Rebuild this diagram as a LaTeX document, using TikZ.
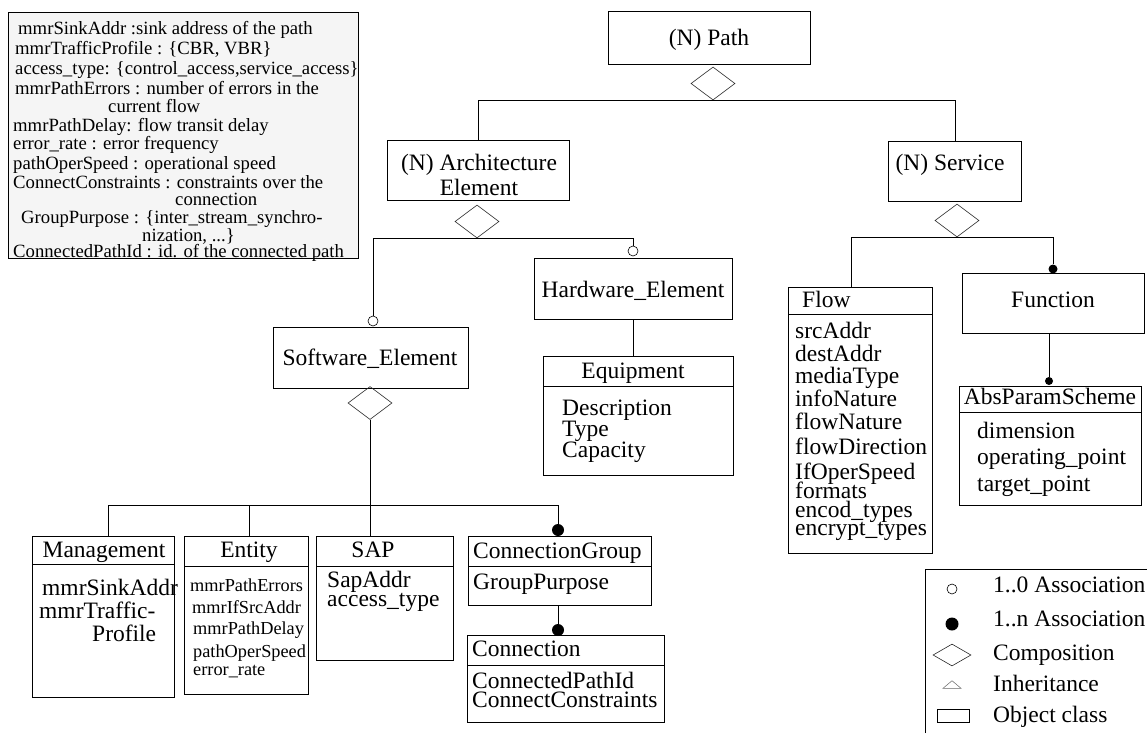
\documentclass[tikz,border=0pt]{standalone}
\usepackage{fontspec}
\setmainfont{Liberation Serif}
\usetikzlibrary{shapes.geometric}
\begin{document}
\begin{tikzpicture}[x=1pt,y=-1pt,
  box/.style={draw, line width=1pt, inner sep=0pt, anchor=north west},
  comp/.style={diamond, draw=black!85, line width=0.6pt, inner sep=0pt, minimum width=44pt, minimum height=33pt},
  conn/.style={line width=1pt},
  sepline/.style={line width=1pt},
  hol/.style={circle, draw, fill=white, line width=0.6pt, inner sep=0pt, minimum size=10pt},
  fil/.style={circle, fill=black, inner sep=0pt, minimum size=12pt},
  big/.style={font=\fontsize{23.5pt}{24pt}\selectfont, inner sep=0pt, text height=15.5pt, text depth=0pt},
  bigw/.style={big, anchor=west},
  note/.style={font=\fontsize{18.7pt}{19pt}\selectfont, inner sep=0pt, text height=12.3pt, text depth=0pt, anchor=west},
  sml/.style={font=\fontsize{18.3pt}{19pt}\selectfont, inner sep=0pt, text height=12pt, text depth=0pt, anchor=west}
]
\useasboundingbox (0,0) rectangle (1147,733);

% ---------- note box ----------
\node[box, fill=black!4, minimum width=350pt, minimum height=246pt] (notebox) at (8,12) {};
\node[note] (n1) at (18,28) {mmrSinkAddr :sink address of the path};
\node[note] (n2) at (15,48) {mmrTrafficProfile : \{CBR, VBR\}};
\node[note] (n3) at (15,68) {access\_type: \{control\_access,service\_access\}};
\node[note] (n4) at (15,88) {mmrPathErrors : number of errors in the};
\node[note] (n5) at (108,106) {current flow};
\node[note] (n6) at (13,125) {mmrPathDelay: flow transit delay};
\node[note] (n7) at (13,143) {error\_rate : error frequency};
\node[note] (n8) at (13,163) {pathOperSpeed : operational speed};
\node[note] (n9) at (13,182) {ConnectConstraints : constraints over the};
\node[note] (n10) at (175,199) {connection};
\node[note] (n11) at (21,217) {GroupPurpose : \{inter\_stream\_synchro-};
\node[note] (n12) at (142,235) {nization, ...\}};
\node[note] (n13) at (13,251) {ConnectedPathId : id. of the connected path};

% ---------- top level ----------
\node[box, minimum width=202pt, minimum height=53pt] (path) at (608,11) {};
\node[big] (pathT) at (709,38) {(N) Path};
\node[comp] (pathD) at (713,83.5) {};

\node[box, minimum width=182pt, minimum height=60pt] (arch) at (387,140) {};
\node[big] (archT1) at (479,163) {(N) Architecture};
\node[big] (archT2) at (479,188) {Element};
\node[comp] (archD) at (477,221.5) {};

\node[box, minimum width=133pt, minimum height=60pt] (srv) at (888,141) {};
\node[big] (srvT) at (950,163) {(N) Service};
\node[comp] (srvD) at (957,220.5) {};

\draw[conn] (arch.north) |- (pathD.south) -| (srv.north);

% ---------- architecture subtree ----------
\node[hol] (hwC) at (633,251) {};
\node[box, minimum width=198pt, minimum height=61pt] (hw) at (534,258) {};
\node[big] (hwT) at (633,290) {Hardware\_Element};

\node[hol] (swC) at (373,321) {};
\node[box, minimum width=195pt, minimum height=61pt] (sw) at (273,327) {};
\node[big] (swT) at (370,358) {Software\_Element};
\node[comp] (swD) at (370,403) {};

\draw[conn] (swC.north) |- (archD.south) -| (hwC.north);

\node[box, minimum width=190pt, minimum height=119pt] (equip) at (543,356) {};
\draw[sepline] (equip.north west) ++(0,30) -- ++(190,0);
\node[big] (equipT) at (633,371) {Equipment};
\node[bigw] (eq1) at (562,408) {Description};
\node[bigw] (eq2) at (562,429) {Type};
\node[bigw] (eq3) at (562,450) {Capacity};
\draw[conn] (hw.south -| hwC) -- (equip.north -| hwC);

% ---------- software subtree ----------
\coordinate (jM) at (108,505);
\coordinate (jE) at (249,505);
\coordinate (jS) at (370,505);
\coordinate (jC) at (558,505);

\node[box, minimum width=142pt, minimum height=161pt] (mgmt) at (32,536) {};
\draw[sepline] (mgmt.north west) ++(0,28) -- ++(142,0);
\node[big] (mgmtT) at (104,550) {Management};
\node[bigw] (m1) at (42,588) {mmrSinkAddr};
\node[bigw] (m2) at (39,611) {mmrTraffic-};
\node[bigw] (m3) at (92,634) {Profile};

\node[box, minimum width=124pt, minimum height=158pt] (ent) at (184,536) {};
\draw[sepline] (ent.north west) ++(0,30) -- ++(124,0);
\node[big] (entT) at (249,550) {Entity};
\node[sml] (e1) at (190,585) {mmrPathErrors};
\node[sml] (e2) at (192,607) {mmrIfSrcAddr};
\node[sml] (e3) at (193,628) {mmrPathDelay};
\node[sml] (e4) at (193,651) {pathOperSpeed};
\node[sml] (e5) at (193,669) {error\_rate};

\node[box, minimum width=137pt, minimum height=124pt] (sap) at (316,536) {};
\draw[sepline] (sap.north west) ++(0,30) -- ++(137,0);
\node[big] (sapT) at (373,550) {SAP};
\node[bigw] (s1) at (327,580) {SapAddr};
\node[bigw] (s2) at (327,599) {access\_type};

\node[fil] (cgC) at (558,530) {};
\node[box, minimum width=183pt, minimum height=69pt] (cg) at (468,536) {};
\draw[sepline] (cg.north west) ++(0,30) -- ++(183,0);
\node[bigw] (cgT) at (473,551) {ConnectionGroup};
\node[bigw] (cg1) at (473,582) {GroupPurpose};

\node[fil] (cnC) at (558,630) {};
\node[box, minimum width=197pt, minimum height=87pt] (cn) at (467,635) {};
\draw[sepline] (cn.north west) ++(0,30) -- ++(197,0);
\node[bigw] (cnT) at (472,649) {Connection};
\node[bigw] (cn1) at (472,681) {ConnectedPathId};
\node[bigw] (cn2) at (472,700) {ConnectConstraints};

\draw[conn] (swD.south) -- (jS);
\draw[conn] (jM |- mgmt.north) -- (jM) -- (jC) -- (cgC.north);
\draw[conn] (jE) -- (jE |- ent.north);
\draw[conn] (jS) -- (jS |- sap.north);
\draw[conn] (cgC |- cg.south) -- (cnC.north);

% ---------- service subtree ----------
\coordinate (jF) at (851,237);
\node[fil, minimum size=9pt] (fnC) at (1053,269) {};
\node[box, minimum width=144pt, minimum height=266pt] (flow) at (788,287) {};
\draw[sepline] (flow.north west) ++(0,27) -- ++(144,0);
\node[bigw] (flowT) at (802,300) {Flow};
\node[bigw] (f1) at (795,331) {srcAddr};
\node[bigw] (f2) at (795,354) {destAddr};
\node[bigw] (f3) at (795,376) {mediaType};
\node[bigw] (f4) at (795,399) {infoNature};
\node[bigw] (f5) at (795,422) {flowNature};
\node[bigw] (f6) at (795,447) {flowDirection};
\node[bigw] (f7) at (795,472) {IfOperSpeed};
\node[bigw] (f8) at (795,491) {formats};
\node[bigw] (f9) at (795,510) {encod\_types};
\node[bigw] (f10) at (795,528) {encrypt\_types};

\node[box, minimum width=182pt, minimum height=60pt] (fn) at (962,273) {};
\node[big] (fnT) at (1053,300) {Function};

\node[fil, minimum size=8pt] (absC) at (1049,381) {};
\node[box, minimum width=182pt, minimum height=119pt] (abs) at (959,386) {};
\draw[sepline] (abs.north west) ++(0,26) -- ++(182,0);
\node[big] (absT) at (1050,397) {AbsParamScheme};
\node[bigw] (a1) at (977,431) {dimension};
\node[bigw] (a2) at (977,457) {operating\_point};
\node[bigw] (a3) at (977,484) {target\_point};

\draw[conn] (jF |- flow.north) |- (srvD.south) -| (fnC.north);
\draw[conn] (absC |- fn.south) -- (absC.north);

% ---------- legend ----------
\coordinate (lgA) at (925,733);
\coordinate (lgB) at (925,569);
\coordinate (lgC) at (1147,569);
\draw[line width=1pt] (lgA) -- (lgB) -- (lgC);
\node[hol] (lg1) at (952,589) {};
\node[circle, fill=black, inner sep=0pt, minimum width=13pt, minimum height=11pt] (lg2) at (952,624) {};
\node[diamond, draw=black!85, line width=0.6pt, inner sep=0pt, minimum width=38pt, minimum height=22pt] (lg3) at (952,655) {};
\node[isosceles triangle, isosceles triangle apex angle=100, shape border rotate=90, draw=black!60, line width=0.5pt, inner sep=0pt, minimum width=18pt, minimum height=7pt] (lg4) at (952,685) {};
\node[draw, line width=0.8pt, inner sep=0pt, minimum width=32pt, minimum height=13pt] (lg5) at (953,716) {};
\node[bigw] (lt1) at (993,585) {1..0 Association};
\node[bigw] (lt2) at (993,619) {1..n Association};
\node[bigw] (lt3) at (993,653) {Composition};
\node[bigw] (lt4) at (993,684) {Inheritance};
\node[bigw] (lt5) at (993,715) {Object class};
\end{tikzpicture}
\end{document}
